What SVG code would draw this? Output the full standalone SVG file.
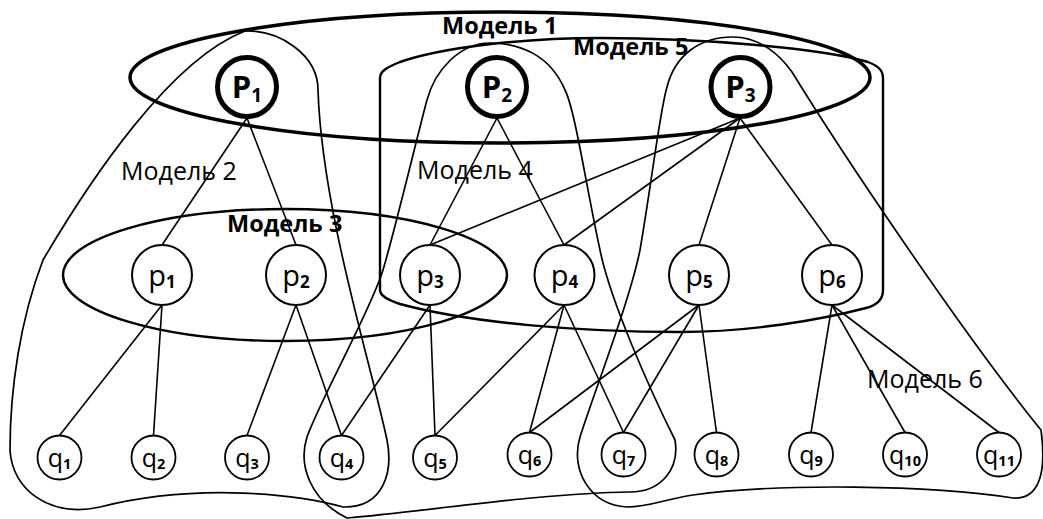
<svg xmlns="http://www.w3.org/2000/svg" width="1043" height="519" viewBox="0 0 1043 519">
<style>
  .outline{fill:none;stroke:#000;stroke-width:1.7}
  .ring{fill:none;stroke:#000;stroke-width:2.4}
  .ring-heavy{fill:none;stroke:#000;stroke-width:3.5}
  .edge{fill:none;stroke:#000;stroke-width:1.6}
  .top{fill:#fff;stroke:#000;stroke-width:5}
  .mid{fill:#fff;stroke:#000;stroke-width:2}
  .leaf{fill:#fff;stroke:#000;stroke-width:1.8}
  text{font-family:"Open Sans","Liberation Sans",sans-serif;fill:#000}
  .lbl{font-size:25px}
  .lblb{font-size:23.5px;font-weight:bold}
  .tP{font-size:31px;font-weight:bold;text-anchor:middle}
  .tp{font-size:29px;text-anchor:middle}
  .tq{font-size:25px;text-anchor:middle}
  .sub{font-weight:bold}
</style>

<!-- model boundaries -->
<g id="models">
  <g id="model-1">
    <ellipse class="ring-heavy" cx="500" cy="77.5" rx="370" ry="65.5"/>
    <text class="lblb" x="442" y="34">Модель 1</text>
  </g>
  <g id="model-2">
    <path class="outline" d="M245,31 C280,30 318,55 318,90 C322,210 370,360 387,440 C393,470 385,508 343,507 C300,495 200,482 100,507 C50,518 12,490 10,450 C10,390 20,320 43,260 C90,180 170,60 245,31 Z"/>
    <text class="lbl" x="121" y="180">Модель 2</text>
  </g>
  <g id="model-3">
    <ellipse class="ring" cx="285" cy="275" rx="222" ry="66"/>
    <text class="lblb" x="227" y="232">Модель 3</text>
  </g>
  <g id="model-4">
    <path class="outline" d="M490,43 C460,43 435,70 427,100 C420,125 395,230 383,270 C371,310 320,400 307,437 C298,465 310,500 347,518 C420,512 540,493 630,492 C660,492 680,470 675,440 C650,390 610,300 600,250 C585,180 575,110 565,90 C550,55 520,43 490,43 Z"/>
    <text class="lbl" x="417" y="179">Модель 4</text>
  </g>
  <g id="model-5">
    <path class="ring" d="M380,290 L380,78 C380,72 385,68 400,62 C440,48 520,38 600,38 C700,38 820,48 868,62 C878,66 883,70 883,78 L883,290 C883,298 878,305 866,308 C820,320 750,332 680,332 C580,332 470,323 400,304 C388,300 380,296 380,290 Z"/>
    <text class="lblb" x="573" y="55">Модель 5</text>
  </g>
  <g id="model-6">
    <path class="outline" d="M733,37 C760,37 780,55 792,72 C840,150 960,330 1041,430 C1045,460 1045,500 1013,498 C930,485 780,483 693,495 C665,499 650,507 627,507 C590,505 570,470 580,437 C595,390 630,300 640,250 C652,180 660,110 667,87 C675,55 700,37 733,37 Z"/>
    <text class="lbl" x="867" y="388">Модель 6</text>
  </g>
</g>

<!-- connectors -->
<g id="connectors" class="edge">
  <line x1="247" y1="118" x2="162" y2="245"/>
  <line x1="247" y1="118" x2="296" y2="245"/>
  <line x1="497" y1="118" x2="430" y2="245"/>
  <line x1="497" y1="118" x2="564" y2="245"/>
  <line x1="740" y1="118" x2="430" y2="245"/>
  <line x1="740" y1="118" x2="564" y2="245"/>
  <line x1="740" y1="118" x2="699" y2="245"/>
  <line x1="740" y1="118" x2="832" y2="245"/>
  <line x1="162" y1="305" x2="59.5" y2="435.5"/>
  <line x1="162" y1="305" x2="153.5" y2="435.5"/>
  <line x1="296" y1="305" x2="247" y2="435.5"/>
  <line x1="296" y1="305" x2="341.5" y2="435.5"/>
  <line x1="430" y1="305" x2="341.5" y2="435.5"/>
  <line x1="430" y1="305" x2="435" y2="435.5"/>
  <line x1="564" y1="305" x2="435" y2="435.5"/>
  <line x1="564" y1="305" x2="529.5" y2="432.5"/>
  <line x1="564" y1="305" x2="623.5" y2="432.5"/>
  <line x1="699" y1="305" x2="529.5" y2="432.5"/>
  <line x1="699" y1="305" x2="623.5" y2="432.5"/>
  <line x1="699" y1="305" x2="716.5" y2="432.5"/>
  <line x1="832" y1="305" x2="811" y2="432.5"/>
  <line x1="832" y1="305" x2="905" y2="432.5"/>
  <line x1="832" y1="305" x2="999" y2="432.5"/>
</g>

<!-- upper level -->
<g id="P1"><circle class="top" cx="247" cy="87" r="29.5"/><text class="tP" x="247" y="98">P<tspan class="sub" font-size="19" dy="4">1</tspan></text></g>
<g id="P2"><circle class="top" cx="497" cy="87" r="29.5"/><text class="tP" x="497" y="98">P<tspan class="sub" font-size="19" dy="4">2</tspan></text></g>
<g id="P3"><circle class="top" cx="740.5" cy="87" r="29.5"/><text class="tP" x="740.5" y="98">P<tspan class="sub" font-size="19" dy="4">3</tspan></text></g>

<!-- middle level -->
<g id="p1"><circle class="mid" cx="162" cy="275" r="30"/><text class="tp" x="162" y="286">p<tspan class="sub" font-size="17" dy="2">1</tspan></text></g>
<g id="p2"><circle class="mid" cx="296" cy="275" r="30"/><text class="tp" x="296" y="286">p<tspan class="sub" font-size="17" dy="2">2</tspan></text></g>
<g id="p3"><circle class="mid" cx="430" cy="275" r="30"/><text class="tp" x="430" y="286">p<tspan class="sub" font-size="17" dy="2">3</tspan></text></g>
<g id="p4"><circle class="mid" cx="564.5" cy="275" r="30"/><text class="tp" x="564.5" y="286">p<tspan class="sub" font-size="17" dy="2">4</tspan></text></g>
<g id="p5"><circle class="mid" cx="699" cy="275" r="30"/><text class="tp" x="699" y="286">p<tspan class="sub" font-size="17" dy="2">5</tspan></text></g>
<g id="p6"><circle class="mid" cx="832" cy="275" r="30"/><text class="tp" x="832" y="286">p<tspan class="sub" font-size="17" dy="2">6</tspan></text></g>

<!-- lower level -->
<g id="q1"><circle class="leaf" cx="59.5" cy="457.5" r="22"/><text class="tq" x="59.5" y="467">q<tspan class="sub" font-size="14.5" dy="2">1</tspan></text></g>
<g id="q2"><circle class="leaf" cx="153.5" cy="457.5" r="22"/><text class="tq" x="153.5" y="467">q<tspan class="sub" font-size="14.5" dy="2">2</tspan></text></g>
<g id="q3"><circle class="leaf" cx="247" cy="457.5" r="22"/><text class="tq" x="247" y="467">q<tspan class="sub" font-size="14.5" dy="2">3</tspan></text></g>
<g id="q4"><circle class="leaf" cx="341.5" cy="457.5" r="22"/><text class="tq" x="341.5" y="467">q<tspan class="sub" font-size="14.5" dy="2">4</tspan></text></g>
<g id="q5"><circle class="leaf" cx="435" cy="457.5" r="22"/><text class="tq" x="435" y="467">q<tspan class="sub" font-size="14.5" dy="2">5</tspan></text></g>
<g id="q6"><circle class="leaf" cx="529.5" cy="454.5" r="22"/><text class="tq" x="529.5" y="464">q<tspan class="sub" font-size="14.5" dy="2">6</tspan></text></g>
<g id="q7"><circle class="leaf" cx="623.5" cy="454.5" r="22"/><text class="tq" x="623.5" y="464">q<tspan class="sub" font-size="14.5" dy="2">7</tspan></text></g>
<g id="q8"><circle class="leaf" cx="716.5" cy="454.5" r="22"/><text class="tq" x="716.5" y="464">q<tspan class="sub" font-size="14.5" dy="2">8</tspan></text></g>
<g id="q9"><circle class="leaf" cx="811" cy="454.5" r="22"/><text class="tq" x="811" y="464">q<tspan class="sub" font-size="14.5" dy="2">9</tspan></text></g>
<g id="q10"><circle class="leaf" cx="905" cy="454.5" r="22"/><text class="tq" x="905" y="464">q<tspan class="sub" font-size="14.5" dy="2">10</tspan></text></g>
<g id="q11"><circle class="leaf" cx="999" cy="454.5" r="22"/><text class="tq" x="999" y="464">q<tspan class="sub" font-size="14.5" dy="2">11</tspan></text></g>
</svg>
